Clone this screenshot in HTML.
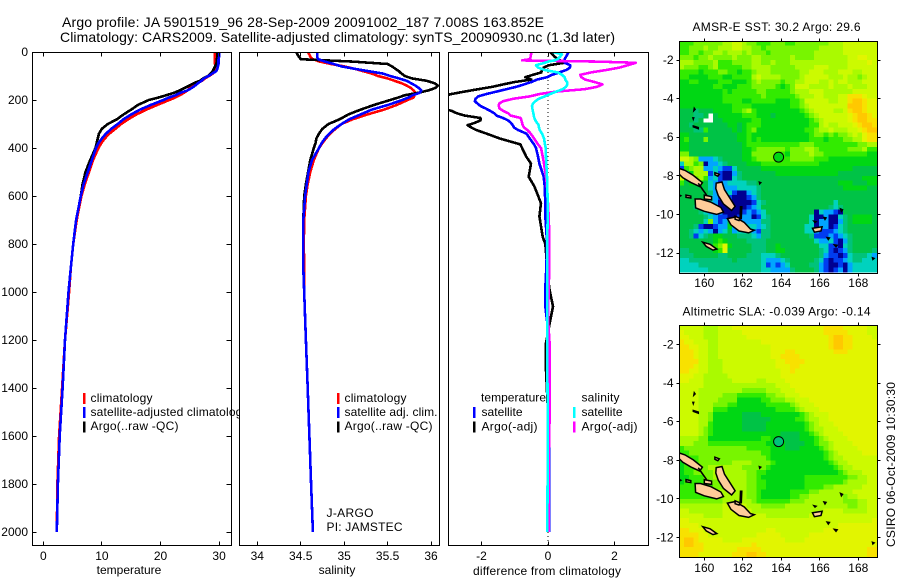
<!DOCTYPE html>
<html lang="en">
<head>
<meta charset="utf-8">
<title>Argo profile 5901519_96</title>
<style>
html,body{margin:0;padding:0;background:#fff;width:900px;height:580px;overflow:hidden}
svg{display:block}
text{font-family:"Liberation Sans",sans-serif;font-size:12px;fill:#000}
.box{fill:none;stroke:#000;stroke-width:1;shape-rendering:crispEdges}
.tick{stroke:#000;stroke-width:1;shape-rendering:crispEdges}
.sw{shape-rendering:crispEdges}
.ln{fill:none;stroke-width:2.6;stroke-linejoin:round;shape-rendering:crispEdges}
</style>
</head>
<body>
<svg id="chart" xmlns="http://www.w3.org/2000/svg" width="900" height="580" viewBox="0 0 900 580">
<defs>
<clipPath id="clipT"><rect x="32.5" y="52.5" width="199" height="493"/></clipPath>
<clipPath id="clipS"><rect x="239.5" y="52.5" width="200" height="493"/></clipPath>
<clipPath id="clipD"><rect x="448.5" y="52.5" width="200" height="493"/></clipPath>
<clipPath id="clipM1"><rect x="679.5" y="41.5" width="198" height="232"/></clipPath>
<clipPath id="clipM2"><rect x="679.5" y="325.5" width="198" height="232"/></clipPath>
</defs>

<text x="62" y="27" style="font-size:14px" textLength="482" lengthAdjust="spacing">Argo profile: JA 5901519_96 28-Sep-2009 20091002_187 7.008S 163.852E</text>
<text x="60" y="42" style="font-size:14px" textLength="555" lengthAdjust="spacing">Climatology: CARS2009. Satellite-adjusted climatology: synTS_20090930.nc (1.3d later)</text>

<g id="panelT">
  <g id="linesT" clip-path="url(#clipT)"></g>
  <rect class="sw" x="83" y="393" width="2.5" height="11" fill="#ff0000"/>
  <text x="90.5" y="402" textLength="62">climatology</text>
  <rect class="sw" x="83" y="407" width="2.5" height="11" fill="#0000ff"/>
  <text x="90.5" y="416" textLength="158">satellite-adjusted climatology</text>
  <rect class="sw" x="83" y="421.5" width="2.5" height="11" fill="#000"/>
  <text x="90.5" y="430" textLength="88">Argo(..raw -QC)</text>
  <rect class="box" x="32.5" y="52.5" width="199" height="493"/>
  <text x="129" y="574" text-anchor="middle">temperature</text>
</g>

<rect x="239.5" y="52.5" width="200" height="493" fill="#fff"/>
<g id="panelS">
  <g id="linesS" clip-path="url(#clipS)"></g>
  <rect class="sw" x="337" y="393" width="2.5" height="11" fill="#ff0000"/>
  <text x="344.5" y="402" textLength="62">climatology</text>
  <rect class="sw" x="337" y="407" width="2.5" height="11" fill="#0000ff"/>
  <text x="344.5" y="416" textLength="93">satellite adj. clim.</text>
  <rect class="sw" x="337" y="421.5" width="2.5" height="11" fill="#000"/>
  <text x="344.5" y="430" textLength="88">Argo(..raw -QC)</text>
  <text x="326.5" y="517" textLength="47">J-ARGO</text>
  <text x="326.5" y="531" textLength="76">PI: JAMSTEC</text>
  <rect class="box" x="239.5" y="52.5" width="200" height="493"/>
  <text x="337" y="574" text-anchor="middle">salinity</text>
</g>

<g id="panelD">
  <g id="linesD" clip-path="url(#clipD)"></g>
  <text x="481" y="401.5" textLength="65">temperature</text>
  <rect class="sw" x="473" y="407" width="2.5" height="11" fill="#0000ff"/>
  <text x="481.5" y="416" textLength="41">satellite</text>
  <rect class="sw" x="473" y="421.5" width="2.5" height="11" fill="#000"/>
  <text x="481.5" y="430.5" textLength="56">Argo(-adj)</text>
  <text x="581.5" y="401.5" textLength="38">salinity</text>
  <rect class="sw" x="573" y="407" width="2.5" height="11" fill="#00ffff"/>
  <text x="581.5" y="416" textLength="41">satellite</text>
  <rect class="sw" x="573" y="421.5" width="2.5" height="11" fill="#ff00ff"/>
  <text x="581.5" y="430.5" textLength="56">Argo(-adj)</text>
  <rect class="box" x="448.5" y="52.5" width="200" height="493"/>
  <text x="547" y="575" text-anchor="middle" textLength="148">difference from climatology</text>
</g>

<g id="map1">
  <text x="692.5" y="31" textLength="168">AMSR-E SST: 30.2 Argo: 29.6</text>
</g>
<g id="map2">
  <text x="682.5" y="315.5" textLength="188">Altimetric SLA: -0.039 Argo: -0.14</text>
</g>
<text transform="translate(895,547) rotate(-90)" textLength="165">CSIRO 06-Oct-2009 10:30:30</text>
</svg>

<script>
// ---- Profile data ----
const depths = [0,10,20,30,40,50,60,70,80,90,100,110,120,130,140,150,160,170,180,190,200,220,240,260,280,300,320,340,360,380,400,450,500,550,600,700,800,900,1000,1200,1400,1600,1800,2000];
const tempClim = [29.3,29.3,29.3,29.3,29.3,29.3,29.4,29.5,29.4,28.9,28.3,27.6,27.1,26.3,25.6,25.0,24.6,24.0,23.3,22.5,21.5,19.5,17.6,15.9,14.5,13.3,12.3,11.3,10.5,9.9,9.4,8.5,7.8,7.1,6.5,5.7,5.1,4.7,4.4,3.7,3.2,2.7,2.4,2.3];
const tempSat = [30.0,30.0,30.0,29.9,29.9,29.9,29.8,29.7,29.5,28.8,28.2,27.4,27.0,26.4,25.9,25.3,24.6,23.4,22.6,21.4,20.5,18.4,16.5,15.0,13.7,12.7,11.6,10.7,10.0,9.4,9.0,8.3,7.6,6.9,6.4,5.6,5.1,4.7,4.3,3.7,3.3,2.8,2.5,2.3];
const tempArgo = [29.7,29.7,29.7,29.6,29.6,29.5,29.3,29.1,28.9,28.5,28.1,27.3,26.7,25.7,24.9,24.1,23.3,22.3,21.0,19.6,18.0,16.2,15.0,13.7,12.6,11.0,10.0,9.5,9.3,9.1,8.9,8.0,7.2,6.7,6.4,5.6,5.1,4.7,4.3,3.7,3.3,2.8,2.5,2.3];
const salClim = [34.58,34.60,34.61,34.64,34.72,34.85,35.0,35.12,35.22,35.32,35.39,35.50,35.58,35.66,35.72,35.77,35.8,35.82,35.81,35.8,35.73,35.61,35.46,35.27,35.1,34.97,34.9,34.84,34.79,34.75,34.71,34.65,34.61,34.58,34.56,34.54,34.535,34.54,34.54,34.56,34.58,34.6,34.62,34.64];
const salSat = [34.69,34.69,34.69,34.70,34.78,34.88,34.97,35.12,35.28,35.45,35.53,35.63,35.72,35.77,35.82,35.86,35.89,35.87,35.79,35.74,35.67,35.51,35.32,35.19,35.06,34.97,34.89,34.83,34.78,34.74,34.71,34.63,34.59,34.57,34.55,34.53,34.53,34.53,34.54,34.56,34.58,34.6,34.62,34.64];
const salArgo = [34.45,34.46,34.48,34.5,35.1,35.5,35.55,35.59,35.63,35.66,35.70,35.78,35.95,36.04,36.08,36.05,35.97,35.85,35.7,35.62,35.53,35.35,35.19,35.05,34.95,34.82,34.75,34.71,34.68,34.67,34.65,34.61,34.585,34.56,34.54,34.53,34.53,34.53,34.54,34.56,34.58,34.6,34.62,34.64];
const diffDepths = [0,10,20,30,35,40,45,55,65,75,85,95,105,115,125,135,145,155,165,175,185,195,205,215,225,235,245,255,265,275,285,295,305,315,325,340,360,385,400,435,465,520,560,630,685,770,800,900,985,1060,1130,1220,1300,1500,1700,2000];
const diffTArgo = [.06,.14,.2,.3,.38,.45,.49,.03,-.13,-.19,-.2,-.45,-.68,-.5,-1.0,-1.35,-1.67,-2.1,-2.51,-2.9,-3.2,-3.6,-3.6,-3.6,-3.5,-3.2,-2.9,-2.75,-2.5,-2.03,-2.03,-2.2,-2.42,-2.3,-2.16,-1.85,-1.46,-.83,-.78,-.66,-.51,-.58,-.41,-.21,-.26,-.16,-.08,-.02,.04,.15,.05,-.07,-.07,0,.02,.03];
const diffTSat = [.62,.58,.54,.5,.5,.5,.5,.67,.66,.55,.34,.12,-.03,-.33,-.5,-.72,-.95,-1.25,-1.55,-1.85,-2.1,-2.18,-2.2,-2.12,-2.03,-1.88,-1.74,-1.62,-1.55,-1.35,-1.2,-1.12,-1.06,-1.02,-.9,-.65,-.55,-.42,-.36,-.3,-.26,-.13,-.1,-.08,-.08,-.04,-.03,-.05,-.08,-.08,-.02,0,0,.02,.04,.03];
const diffSArgo = [-.5,-.51,-.52,-.55,-.78,1.5,2.64,2.4,2.15,1.75,1.3,.97,1.0,1.12,1.4,1.64,1.48,1.1,.24,-.25,-.55,-1.05,-1.35,-1.47,-1.48,-1.46,-1.35,-1.2,-1.12,-.82,-.8,-.78,-.76,-.72,-.62,-.52,-.42,-.3,-.21,-.16,-.12,-.06,-.03,0,.02,.04,.04,.04,.02,.01,.01,.05,.05,.05,.02,.02];
const diffSSat = [.15,.42,.36,.29,.2,0,-.1,-.36,-.3,-.1,.29,.42,.5,.52,.57,.58,.54,.44,.25,.07,-.1,-.28,-.38,-.45,-.48,-.47,-.46,-.44,-.43,-.41,-.38,-.33,-.28,-.27,-.25,-.18,-.12,-.09,-.07,-.06,-.05,-.03,-.02,-.01,-.01,-.02,-.02,-.02,-.02,-.02,-.02,-.02,-.02,-.01,-.01,-.02];

// ---- Tick labels ----
const depthTicks = [0,200,400,600,800,1000,1200,1400,1600,1800,2000];
const tempTicks = [0,10,20,30];
const salTicks = [34,34.5,35,35.5,36];
const diffTicks = [-2,0,2];
const lonTicks = [160,162,164,166,168];
const latTicks = [-2,-4,-6,-8,-10,-12];

// ---- Map cells: colour level per 0.25 degree cell, north to south; -1 = no data ----
const sstLevels = [
[7,7,7,8,8,8,8,8,8,9,9,10,10,9,8,8,7,7,7,8,8,8,7,7,8,8,8,8,8,8,8,9,9,9,10,10,10,10,10,10,10],
[7,7,8,8,8,9,8,8,9,9,9,10,10,9,9,8,8,7,8,8,8,8,8,8,8,8,8,8,8,9,9,9,9,9,10,10,10,10,10,10,10],
[7,7,8,8,7,8,8,9,9,8,9,9,9,8,9,8,8,8,7,8,8,8,8,8,8,8,8,8,9,9,9,9,9,9,10,10,10,10,10,10,10],
[8,8,8,7,8,8,9,8,8,8,8,9,8,8,8,9,9,8,8,8,8,8,8,9,8,8,8,8,9,9,9,9,9,9,9,10,10,11,11,10,10],
[9,9,9,8,8,8,8,9,7,7,7,8,8,8,8,9,9,8,8,9,8,8,8,9,9,9,9,9,9,9,9,9,9,9,9,10,10,10,10,11,10],
[9,8,8,8,7,7,8,9,7,7,7,7,7,8,8,9,9,9,9,8,8,8,8,8,9,9,9,9,10,10,10,9,9,9,9,10,10,10,10,10,10],
[7,7,7,7,6,7,7,7,8,8,7,7,6,7,7,8,9,9,9,8,8,8,8,8,8,9,9,10,10,10,9,9,9,10,10,10,9,9,10,10,10],
[7,7,6,6,6,6,7,7,7,6,6,7,7,7,7,9,10,9,9,9,9,8,8,8,8,9,10,10,10,10,10,9,9,9,10,9,9,8,9,10,10],
[6,6,7,7,6,6,6,6,7,7,7,6,6,6,7,8,9,8,8,8,8,7,8,8,9,9,10,10,10,9,9,10,9,10,10,9,9,9,10,10,10],
[6,6,6,6,6,6,6,7,7,6,6,6,7,7,7,8,8,8,8,8,7,6,7,8,10,10,10,9,9,9,9,10,9,9,9,10,9,9,9,10,10],
[6,6,6,6,6,6,6,6,6,7,6,7,7,7,7,7,8,8,7,7,7,7,7,8,9,9,9,10,10,10,9,9,9,9,9,9,10,10,10,10,10],
[6,6,6,6,6,6,6,6,6,7,7,7,7,7,7,7,7,8,7,7,7,7,7,7,8,9,9,9,10,10,9,9,9,10,10,12,12,12,11,10,10],
[6,6,6,6,6,6,6,6,6,7,7,7,7,6,6,7,7,7,7,7,6,6,6,7,7,8,10,10,10,10,10,9,9,10,10,12,13,13,12,11,11],
[6,6,6,6,6,6,6,6,6,6,6,7,7,7,7,6,6,6,6,6,6,6,6,7,7,8,9,10,10,10,10,10,10,10,10,13,13,13,12,11,11],
[5,5,5,4,5,5,5,6,6,6,6,7,7,8,9,7,6,6,6,6,6,6,6,6,6,7,8,9,10,10,10,10,9,9,10,12,13,13,12,11,11],
[5,5,5,4,4,5,-1,5,6,6,6,6,6,7,7,7,6,6,6,5,6,6,6,6,6,6,7,8,9,10,10,10,10,10,10,11,12,13,13,12,11],
[5,5,5,4,5,-1,-1,5,5,6,6,6,6,6,6,7,7,6,6,6,6,6,6,6,6,6,6,7,8,9,10,10,10,10,10,11,12,13,13,12,12],
[5,5,4,5,5,5,5,5,5,5,6,6,5,6,7,7,7,6,6,6,6,6,6,6,6,6,6,7,7,9,10,9,9,10,10,10,11,12,13,13,12],
[5,5,5,4,4,7,5,5,5,5,5,6,5,6,7,8,6,6,6,6,6,6,6,6,6,6,7,7,8,9,9,10,9,9,9,10,10,11,12,13,13],
[6,6,5,5,5,5,5,5,5,5,5,5,6,6,7,6,6,6,6,6,6,6,6,6,6,6,6,7,8,8,7,8,7,8,8,9,10,9,11,12,12],
[6,7,5,5,5,8,5,5,5,5,5,5,6,6,7,6,7,6,6,6,6,6,6,6,6,6,6,7,7,7,6,7,7,7,8,8,9,9,11,12,12],
[6,6,5,5,5,5,5,5,5,5,5,5,5,6,7,7,7,7,7,7,7,7,7,7,7,8,8,8,7,7,7,7,7,7,7,7,7,8,8,9,9],
[6,6,5,5,5,5,5,5,5,5,5,5,5,6,6,7,8,8,8,8,8,8,7,8,8,8,9,9,8,7,7,7,7,7,7,8,8,8,9,7,7],
[8,8,5,5,5,5,5,5,5,5,5,5,5,6,6,8,8,8,8,8,8,7,6,8,8,8,8,9,8,8,7,7,7,7,7,7,7,7,7,6,6],
[10,10,9,8,2,2,2,3,4,5,5,5,5,6,6,7,8,8,8,8,8,7,7,8,8,8,8,8,7,7,7,6,6,6,6,6,6,6,6,6,6],
[3,9,9,7,8,0,2,2,3,4,5,5,5,5,6,6,6,7,7,7,7,7,7,7,7,7,7,7,7,6,6,6,6,6,6,6,6,6,6,6,6],
[1,7,8,9,9,2,2,3,2,1,1,3,5,5,5,5,5,6,6,6,6,6,6,6,6,6,6,6,6,6,6,6,6,6,6,6,5,5,5,5,5],
[3,3,6,9,9,9,1,3,1,0,0,2,4,5,5,5,5,5,5,5,6,6,6,6,6,6,6,6,6,6,6,6,6,5,5,5,5,5,5,5,5],
[10,6,7,8,9,7,2,3,1,0,0,3,4,5,5,5,5,5,5,5,5,5,5,5,5,5,5,5,5,5,5,5,5,5,5,5,5,5,6,6,6],
[7,5,6,6,6,5,3,2,1,2,3,3,3,3,4,4,5,5,5,5,5,5,5,5,5,5,5,5,5,5,5,5,5,6,6,6,5,5,5,6,6],
[5,5,5,5,5,5,3,2,3,2,2,2,3,3,3,3,4,5,5,5,5,5,5,5,5,5,5,5,5,5,5,5,5,5,6,6,6,6,6,5,5],
[5,5,5,5,5,5,4,2,2,2,3,1,0,0,2,3,4,5,5,5,5,5,5,5,5,5,5,5,5,5,5,5,5,5,5,5,5,5,5,5,5],
[5,5,5,5,5,5,3,2,1,2,1,0,0,0,1,2,4,5,5,5,5,5,5,5,5,5,5,5,5,5,5,5,5,5,5,5,5,5,5,5,5],
[5,5,5,5,5,5,3,2,0,0,0,0,0,0,0,1,3,4,5,5,5,5,5,5,5,5,5,5,5,5,5,5,3,5,5,5,5,5,5,5,5],
[5,5,5,4,4,3,2,2,0,0,0,0,0,0,1,2,3,5,5,5,5,5,5,5,5,5,5,5,5,5,5,4,3,4,5,5,5,5,5,5,5],
[5,5,5,5,4,3,2,1,2,0,0,0,0,1,2,1,2,3,5,5,5,5,5,5,5,5,5,5,0,3,2,2,1,0,5,5,5,5,5,5,5],
[5,5,5,5,5,4,3,2,1,1,0,0,1,2,2,0,1,3,4,5,5,5,5,5,5,5,5,3,0,0,2,0,0,3,4,5,6,6,6,6,5],
[5,5,5,5,5,3,8,2,1,2,5,7,1,2,2,2,2,4,4,5,5,5,5,5,5,5,5,3,0,2,2,0,0,2,4,5,6,6,6,6,5],
[5,5,5,4,1,0,0,1,2,2,6,2,2,2,3,3,2,3,4,5,5,5,5,5,5,5,3,3,0,2,2,0,1,3,4,5,5,5,5,5,5],
[5,5,4,3,2,3,2,0,2,3,5,2,3,3,4,2,1,4,4,5,5,5,5,5,5,5,3,3,2,1,1,1,2,3,4,5,5,5,5,5,5],
[5,5,4,1,3,4,5,6,6,5,5,5,4,4,4,3,2,4,4,5,5,5,5,5,5,5,5,4,1,1,1,2,1,2,3,4,5,5,5,5,5],
[5,5,5,5,5,5,5,6,7,6,5,5,5,5,4,4,4,4,5,5,5,5,5,5,5,5,5,5,3,2,2,3,1,0,2,4,5,5,5,5,5],
[5,5,5,5,5,5,5,7,8,11,6,5,5,5,5,4,4,4,5,5,6,5,5,5,5,5,5,5,5,3,3,1,1,0,3,4,5,5,5,5,5],
[4,4,5,5,5,5,5,6,7,11,5,5,5,5,5,4,4,4,5,5,6,6,5,5,5,5,5,5,5,4,3,1,0,1,2,4,5,5,5,5,4],
[4,4,4,5,5,5,5,5,4,4,5,5,5,5,4,4,4,3,3,3,4,5,5,5,5,5,5,5,5,4,2,1,1,0,1,3,4,4,4,3,2],
[3,3,4,4,4,4,4,4,4,4,4,5,4,4,4,4,4,3,2,2,2,3,4,5,5,5,5,5,4,3,1,0,1,1,2,3,4,4,3,3,3],
[3,3,3,3,4,4,4,4,4,4,4,4,4,4,4,4,4,3,1,2,1,2,3,5,5,5,5,4,4,2,1,0,0,1,0,2,3,3,3,3,3],
[3,3,3,3,3,3,4,4,4,4,4,4,4,4,4,4,4,3,3,2,2,2,2,4,5,5,5,5,4,2,1,0,1,2,0,2,3,3,3,3,3]
];
const slaLevels = [
[10,10,10,10,10,9,9,9,10,10,10,11,11,11,11,11,11,11,11,11,11,11,11,11,11,11,11,11,11,11,12,12,12,12,11,11,11,11,11,10,10],
[11,10,10,10,10,9,9,9,10,10,10,10,10,11,11,11,11,11,11,11,11,11,11,11,11,11,11,11,11,11,12,12,12,12,12,11,11,11,11,10,10],
[11,11,10,10,10,9,9,9,10,10,10,10,10,10,11,11,11,11,11,11,11,11,11,11,11,11,11,11,11,11,11,12,13,13,12,12,11,11,11,11,10],
[12,11,11,10,10,10,9,9,10,10,10,10,10,10,10,10,10,11,11,11,11,11,11,11,11,11,11,11,11,11,11,12,13,13,12,12,11,11,11,11,11],
[12,12,11,11,10,10,9,9,10,10,10,10,10,10,10,10,10,10,10,11,11,11,11,11,11,11,11,11,11,11,11,12,13,13,12,12,11,11,11,11,11],
[12,12,12,11,10,10,9,9,10,10,10,10,10,10,10,10,10,10,10,11,11,11,12,12,11,11,11,11,11,11,11,11,12,12,12,11,11,11,11,11,11],
[12,12,12,11,10,10,9,9,10,10,10,10,10,10,10,10,10,10,10,11,11,12,12,12,12,11,11,11,11,11,11,11,11,11,11,11,11,11,11,11,11],
[12,12,12,12,10,10,9,9,9,10,10,10,10,10,10,10,10,10,10,10,11,11,12,12,12,12,11,11,11,11,11,11,11,11,11,11,11,11,11,11,11],
[12,12,12,11,10,10,9,9,9,10,10,10,10,10,10,10,10,10,10,10,11,11,11,12,12,11,11,11,11,11,11,11,11,11,11,11,11,11,11,11,11],
[12,12,11,11,10,10,9,9,9,10,10,10,10,10,10,10,10,10,10,10,10,11,11,12,11,11,11,11,11,11,11,11,11,11,11,11,11,11,11,11,11],
[11,11,11,10,10,9,9,9,9,9,10,10,10,10,10,10,10,10,10,10,10,11,11,11,11,11,11,11,11,11,11,11,11,11,11,11,11,11,11,11,11],
[11,11,10,10,10,9,9,9,9,9,9,10,10,10,10,10,9,9,10,10,10,10,11,11,11,11,11,11,11,11,11,11,11,11,11,11,11,11,11,11,11],
[10,10,10,10,10,9,9,9,9,9,9,9,9,9,9,9,9,9,9,9,10,10,10,11,11,11,11,11,11,11,11,11,11,11,11,11,11,11,11,11,11],
[10,10,10,10,9,9,9,9,9,9,9,9,9,8,8,8,8,8,9,9,9,10,10,10,11,11,11,11,11,11,11,11,11,11,11,11,11,11,11,11,11],
[10,10,10,10,9,9,9,9,9,8,8,8,7,7,7,7,7,7,8,8,9,9,10,10,10,11,11,11,11,11,11,11,11,11,11,11,11,11,11,11,11],
[10,10,10,10,9,9,9,9,8,8,8,8,6,6,6,6,6,7,7,8,8,8,9,9,10,10,10,11,11,11,11,11,11,11,11,11,11,11,11,11,11],
[10,10,10,10,9,9,9,8,8,8,7,7,6,6,6,6,6,6,7,7,7,7,7,8,9,10,10,10,11,11,11,11,11,11,11,11,11,11,11,11,11],
[10,10,10,10,9,9,9,7,7,7,6,6,6,6,6,6,6,6,6,6,7,7,7,7,8,9,10,10,10,11,11,11,11,11,11,11,11,11,11,11,11],
[10,10,10,10,9,9,8,6,6,6,6,6,6,5,5,5,5,6,6,6,6,6,6,6,6,7,8,9,10,10,10,11,11,11,11,11,11,11,11,11,11],
[10,10,10,10,9,9,8,6,6,6,6,6,6,5,5,5,5,5,5,6,6,6,6,6,7,7,8,9,9,10,10,11,11,11,11,11,11,11,11,11,11],
[10,10,10,10,9,9,7,6,6,6,6,6,6,5,5,5,5,5,6,6,6,6,6,6,6,6,7,8,9,10,10,10,11,11,11,11,11,11,11,11,11],
[10,10,10,10,9,8,7,6,6,6,6,6,6,5,5,5,5,5,6,6,6,6,6,6,6,6,7,8,9,9,10,10,10,11,11,11,11,11,11,11,11],
[10,10,10,10,9,8,7,6,6,6,6,6,6,6,6,6,6,6,6,6,6,5,5,5,5,6,6,7,8,9,10,10,10,10,11,11,11,11,11,11,11],
[9,9,9,9,8,8,6,6,6,6,6,6,6,6,6,6,6,7,7,6,6,5,5,5,5,6,6,6,7,8,9,10,10,10,10,11,11,11,11,11,11],
[9,9,9,8,8,8,7,7,7,7,7,7,7,7,7,7,7,7,6,6,6,6,5,5,5,5,6,6,7,8,8,9,10,10,10,10,11,11,11,11,11],
[7,8,8,8,8,8,8,8,8,8,8,8,8,8,7,7,7,7,7,6,6,6,5,5,5,6,6,6,6,7,8,9,10,10,10,10,10,11,11,11,11],
[7,7,8,8,8,8,8,8,8,8,8,8,8,8,8,8,8,7,7,6,6,6,6,6,6,6,6,6,6,6,7,8,9,10,10,10,10,10,11,11,11],
[7,7,7,7,8,8,8,8,8,8,8,8,8,8,8,8,8,8,7,6,6,6,6,6,6,6,6,6,6,6,7,8,9,9,10,10,10,10,10,10,10],
[6,7,7,7,8,8,8,8,8,8,8,9,9,9,9,8,8,8,8,7,6,6,6,6,6,6,6,6,6,6,6,7,8,9,9,10,10,10,10,10,10],
[6,7,7,7,8,8,9,9,9,9,9,9,9,8,8,8,8,8,7,6,6,6,6,6,6,6,6,6,6,6,6,6,7,8,9,9,10,10,10,10,10],
[6,7,7,8,8,8,8,9,9,9,9,9,9,9,8,8,7,7,6,6,6,6,6,6,6,6,6,6,6,6,6,6,6,7,8,9,9,9,10,10,10],
[6,6,7,7,7,8,8,9,9,9,9,9,9,9,8,8,7,6,6,6,6,6,6,6,6,6,7,7,7,7,7,7,7,7,7,8,8,9,9,10,10],
[6,7,7,7,7,7,8,8,8,9,9,9,9,9,8,8,7,7,6,6,6,6,6,6,6,6,7,7,7,7,7,7,7,7,8,9,9,9,9,10,10],
[7,7,7,7,7,7,7,8,8,9,9,9,9,9,8,8,7,7,6,6,6,6,6,6,6,6,7,7,7,7,8,8,9,9,9,9,9,9,10,10,10],
[7,7,7,7,7,7,7,8,9,9,9,9,9,9,8,8,7,6,6,6,6,6,6,7,7,7,7,8,8,9,9,9,9,9,9,9,10,10,10,10,10],
[7,7,7,7,7,7,7,7,8,9,9,9,9,9,8,8,7,6,6,6,6,6,6,7,7,8,8,9,9,9,9,9,9,9,8,9,9,10,10,10,10],
[8,8,8,8,8,8,8,8,8,9,9,9,9,9,9,8,7,7,7,7,7,7,7,8,8,8,9,9,9,9,9,9,9,9,8,8,8,9,9,10,10],
[9,9,9,9,9,9,9,9,9,10,10,10,10,10,9,9,9,8,8,8,8,8,9,9,9,9,9,9,9,9,9,9,9,9,9,8,8,9,9,10,10],
[10,10,9,9,9,9,9,9,9,10,10,10,10,10,10,9,9,9,9,9,9,9,9,9,9,9,9,9,9,9,10,10,10,10,9,9,9,9,9,10,10],
[10,10,10,10,10,9,9,9,9,10,10,10,10,10,10,10,10,10,9,9,9,9,9,9,9,9,9,10,10,10,10,10,10,10,10,10,10,10,10,10,10],
[11,11,10,10,10,10,10,10,10,10,10,10,10,10,10,10,10,10,10,10,10,10,10,10,10,10,10,10,10,10,10,10,10,10,10,10,10,10,10,10,11],
[11,11,11,11,10,10,10,10,10,10,10,10,10,10,10,10,10,10,10,10,10,10,10,10,10,10,10,10,10,10,10,10,10,11,11,11,11,11,11,11,11],
[12,12,11,11,11,10,10,10,10,10,10,10,10,10,10,10,10,10,11,11,10,10,10,10,10,10,10,10,10,10,11,11,11,11,11,11,11,11,11,11,11],
[12,12,12,12,11,11,10,10,10,10,10,10,10,10,10,10,11,11,11,11,11,10,10,10,10,10,10,11,11,11,11,11,11,11,11,11,11,11,11,11,11],
[12,13,13,12,11,11,11,11,11,10,10,10,10,11,11,11,11,11,11,11,11,11,10,10,10,10,11,11,11,11,11,11,11,11,11,11,11,11,11,11,11],
[12,13,13,12,12,11,11,11,11,11,11,11,11,11,11,12,11,11,11,11,11,11,11,11,11,11,11,11,11,11,11,11,11,11,11,11,11,11,11,11,11],
[12,12,12,12,12,11,11,11,11,11,11,11,12,12,12,12,12,11,11,11,11,11,11,11,11,11,11,11,11,11,11,11,11,11,11,11,11,11,11,12,12],
[12,12,12,12,11,11,11,11,11,11,11,12,12,12,13,13,12,12,11,11,11,11,11,11,11,11,11,11,11,11,11,11,11,11,11,11,11,11,11,12,12]
];
const levelColors = ["#000091","#003cf0","#00a5ff","#00d2be","#00c37a","#00c346","#00d714","#32eb00","#78f500","#aafa00","#ccfa00","#e2f500","#f8e100","#ffc800"];

// Land outlines as [lon, lat] vertices
const islands = [
[[158.70,-7.62],[159.0,-7.72],[159.43,-7.98],[159.9,-8.36],[159.76,-8.56],[159.3,-8.34],[158.88,-8.1],[158.70,-7.92]],
[[160.62,-8.38],[160.92,-8.32],[161.05,-8.72],[161.32,-9.14],[161.6,-9.58],[161.42,-9.8],[161.0,-9.46],[160.72,-9.02],[160.6,-8.66]],
[[159.52,-9.2],[159.8,-9.2],[160.32,-9.36],[160.86,-9.64],[161.0,-9.88],[160.64,-10.0],[160.0,-9.84],[159.55,-9.66]],
[[161.2,-10.22],[161.6,-10.14],[162.08,-10.42],[162.4,-10.76],[162.6,-10.82],[162.3,-10.96],[161.8,-10.86],[161.38,-10.54]],
[[159.92,-11.44],[160.3,-11.55],[160.65,-11.8],[160.45,-11.85],[160.1,-11.66]],
[[165.62,-10.72],[166.12,-10.64],[166.06,-10.86],[165.72,-10.92]],
[[160.0,-9.0],[160.38,-9.08],[160.38,-9.25],[160.0,-9.2]],
[[160.55,-7.84],[160.78,-7.92],[160.7,-8.02],[160.55,-7.95]],
[[161.88,-9.6],[161.95,-9.6],[161.92,-10.2],[161.86,-10.2]],
[[161.6,-10.1],[161.85,-10.2],[161.8,-10.32],[161.6,-10.25]],
[[159.05,-9.0],[159.3,-9.05],[159.3,-9.15],[159.05,-9.12]],
[[159.69,-8.39],[159.9,-8.7],[160.12,-9.0]],
[[159.43,-5.42],[159.69,-5.5],[159.69,-5.56],[159.43,-5.46]],
[[159.48,-4.5],[159.52,-4.56],[159.46,-4.62]],
[[159.41,-5.0],[159.45,-5.0],[159.43,-5.06]],
[[158.72,-9.0],[158.78,-9.03],[158.72,-9.06]],
[[162.86,-8.33],[162.93,-8.36],[162.88,-8.41]],
[[166.38,-11.2],[166.5,-11.22],[166.44,-11.3]],
[[166.76,-11.58],[166.9,-11.6],[166.84,-11.68]],
[[167.08,-9.72],[167.18,-9.76],[167.12,-9.84]],
[[166.22,-10.16],[166.32,-10.18],[166.27,-10.26]],
[[165.7,-10.35],[165.8,-10.38],[165.75,-10.42]],
[[168.74,-12.25],[168.82,-12.28],[168.76,-12.33]]
];
const argoLon = 163.86;
const argoLat = -7.03;
const sstArgoLevel = 6;
const slaArgoLevel = 4;

// ---- Axis functions ----
const yDepth = d => 52 + 0.24 * d;
const xTemp = v => 43.3 + 5.86 * v;
const xSal = v => 257.3 + 86.85 * (v - 34);
const xDiff = v => 548 + 33.25 * v;
const xLon = v => 704.3 + 19.25 * (v - 160);
const yLat1 = v => 60 - 19.3 * (v + 2);
const yLat2 = v => 344.5 - 19.3 * (v + 2);

const NS = 'http://www.w3.org/2000/svg';
function mk(tag, attrs, parent, txt) {
  const el = document.createElementNS(NS, tag);
  for (const k in attrs) el.setAttribute(k, attrs[k]);
  if (txt !== undefined) el.textContent = txt;
  parent.appendChild(el);
  return el;
}
function linePath(values, levels, xf) {
  return values.map((v, i) => (i ? 'L' : 'M') + xf(v).toFixed(1) + ' ' + yDepth(levels[i]).toFixed(1)).join('');
}
function drawLine(parent, values, levels, xf, color, name) {
  const el = mk('path', {d: linePath(values, levels, xf), stroke: color, class: 'ln'}, parent);
  
  
}
function tick(parent, x1, y1, x2, y2, name) {
  const el = mk('line', {x1: x1, y1: y1, x2: x2, y2: y2, class: 'tick'}, parent);
  
  
}
function label(parent, x, y, anchor, str, name) {
  const el = mk('text', {x: x, y: y, 'text-anchor': anchor}, parent, str);
  
  
}

// ---- Profile lines ----
const gT = document.getElementById('linesT');
drawLine(gT, tempClim, depths, xTemp, '#ff0000', 'temperature-climatology-line');
drawLine(gT, tempArgo, depths, xTemp, '#000000', 'temperature-argo-line');
drawLine(gT, tempSat, depths, xTemp, '#0000ff', 'temperature-satellite-line');
const gS = document.getElementById('linesS');
drawLine(gS, salClim, depths, xSal, '#ff0000', 'salinity-climatology-line');
drawLine(gS, salArgo, depths, xSal, '#000000', 'salinity-argo-line');
drawLine(gS, salSat, depths, xSal, '#0000ff', 'salinity-satellite-line');
const gD = document.getElementById('linesD');
const zeroLine = mk('line', {x1: xDiff(0), x2: xDiff(0), y1: 52, y2: 545, stroke: '#000', 'stroke-width': 1, 'stroke-dasharray': '1 3', 'shape-rendering': 'crispEdges'}, gD);


drawLine(gD, diffTArgo, diffDepths, xDiff, '#000000', 'difference-temperature-argo-line');
drawLine(gD, diffTSat, diffDepths, xDiff, '#0000ff', 'difference-temperature-satellite-line');
drawLine(gD, diffSArgo, diffDepths, xDiff, '#ff00ff', 'difference-salinity-argo-line');
drawLine(gD, diffSSat, diffDepths, xDiff, '#00ffff', 'difference-salinity-satellite-line');

// ---- Profile ticks ----
const pT = document.getElementById('panelT');
depthTicks.forEach(d => {
  const y = Math.floor(yDepth(d)) + 0.5;
  tick(pT, 32.5, y, 36.5, y, 'depth-tick-left');
  tick(pT, 231.5, y, 226.5, y, 'depth-tick-right');
  label(pT, 28, yDepth(d) + 4, 'end', String(d), 'depth-tick-label');
});
function xTicks(panel, arr, xf, name) {
  arr.forEach(v => {
    const x = Math.floor(xf(v)) + 0.5;
    tick(panel, x, 52.5, x, 56.5, name + '-tick-top');
    tick(panel, x, 545.5, x, 541.5, name + '-tick-bottom');
    label(panel, xf(v), 560, 'middle', String(v), name + '-tick-label');
  });
}
xTicks(pT, tempTicks, xTemp, 'temperature');
xTicks(document.getElementById('panelS'), salTicks, xSal, 'salinity');
xTicks(document.getElementById('panelD'), diffTicks, xDiff, 'difference');

// ---- Maps ----
function drawMap(gId, clipId, levels, yLat, argoLevel, name, top, bottom, labelY) {
  const root = document.getElementById(gId);
  const plot = mk('g', {'clip-path': 'url(#' + clipId + ')', 'shape-rendering': 'crispEdges'}, root);
  
  
  const latStart = -1, lonStart = 158.7, step = 0.25;
  levels.forEach((row, r) => {
    row.forEach((lev, c) => {
      if (lev < 0) return;
      const x0 = xLon(lonStart + c * step), x1 = xLon(lonStart + (c + 1) * step);
      const y0 = yLat(latStart - r * step), y1 = yLat(latStart - (r + 1) * step);
      const cell = mk('rect', {x: x0.toFixed(2), y: y0.toFixed(2), width: (x1 - x0 + 0.4).toFixed(2), height: (y1 - y0 + 0.4).toFixed(2), fill: levelColors[lev]}, plot);
      
      
    });
  });
  const land = mk('g', {'clip-path': 'url(#' + clipId + ')'}, root);
  
  
  islands.forEach(pts => {
    const p = mk('polygon', {points: pts.map(q => xLon(q[0]).toFixed(1) + ',' + yLat(q[1]).toFixed(1)).join(' '), fill: '#ffcc99', stroke: '#000', 'stroke-width': 1.5}, land);
    
    
  });
  const m = mk('circle', {cx: xLon(argoLon), cy: yLat(argoLat), r: 5, fill: levelColors[argoLevel], stroke: '#000', 'stroke-width': 1}, root);
  
  
  const b = mk('rect', {x: 679.5, y: top, width: 198, height: bottom - top, class: 'box'}, root);
  
  
  lonTicks.forEach(v => {
    const x = Math.floor(xLon(v)) + 0.5;
    tick(root, x, top, x, top - 3, name + '-lon-tick-top');
    tick(root, x, bottom, x, bottom + 3, name + '-lon-tick-bottom');
    label(root, xLon(v), labelY, 'middle', String(v), name + '-lon-label');
  });
  latTicks.forEach(v => {
    const y = Math.floor(yLat(v)) + 0.5;
    tick(root, 679.5, y, 676.5, y, name + '-lat-tick-left');
    tick(root, 877.5, y, 880.5, y, name + '-lat-tick-right');
    label(root, 673.5, yLat(v) + 4, 'end', String(v), name + '-lat-label');
  });
}
drawMap('map1', 'clipM1', sstLevels, yLat1, sstArgoLevel, 'sst-map', 41.5, 273.5, 287);
drawMap('map2', 'clipM2', slaLevels, yLat2, slaArgoLevel, 'sla-map', 325.5, 557.5, 572);
</script>
</body>
</html>
